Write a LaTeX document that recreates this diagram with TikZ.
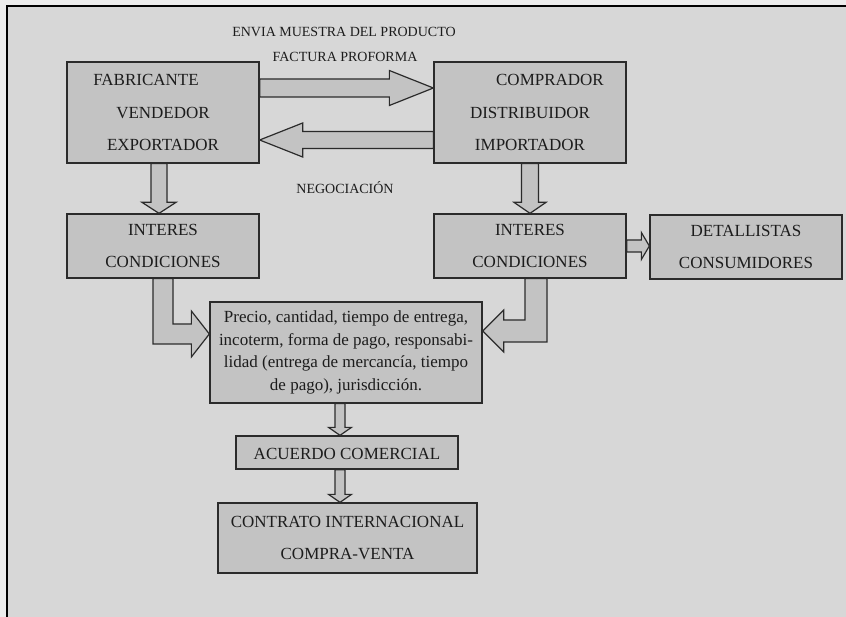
\documentclass[tikz,border=0pt]{standalone}
\usepackage{fontspec}
\setmainfont{Liberation Serif}
\usetikzlibrary{calc}

\definecolor{pagebg}{HTML}{D7D7D7}
\definecolor{outerbg}{HTML}{ECECEC}
\definecolor{boxfill}{HTML}{C3C3C3}
\definecolor{edge}{HTML}{2B2B2B}
\definecolor{ink}{HTML}{1C1C1C}

\tikzset{
  card/.style={draw=edge, fill=boxfill, line width=1.3pt, inner sep=0pt,
    align=center, text=ink, font=\fontsize{17}{32.5}\selectfont},
  notecard/.style={card, font=\fontsize{17}{22.5}\selectfont},
  % taller first line: sets the lines a little lower in the box
  lowered/.style={execute at begin node={\rule{0pt}{#1}}},
  blockarr/.style={draw=edge, fill=boxfill, line width=1.2pt, line join=miter},
  caption/.style={text=ink, font=\fontsize{14}{16}\selectfont}
}

% straight block arrow: #1 start, #2 tip, #3 shaft half width,
% #4 head half width, #5 head length
\newcommand\blockarrow[5]{%
  \coordinate (ba-c) at ($(#2)!#5!(#1)$);
  \draw[blockarr] ($(#1)!#3!90:(#2)$) -- ($(ba-c)!#3!90:(#2)$)
    -- ($(ba-c)!#4!90:(#2)$) -- (#2) -- ($(ba-c)!#4!-90:(#2)$)
    -- ($(ba-c)!#3!-90:(#2)$) -- ($(#1)!#3!-90:(#2)$) -- cycle;}

\begin{document}
\begin{tikzpicture}[x=1pt,y=-1pt]
  \useasboundingbox (0,0) rectangle (846,617);
  % page and frame
  \fill[outerbg] (0,0) rectangle (846,617);
  \fill[pagebg] (7,6) rectangle (846,617);
  \draw[black, line width=2pt] (7,617) -- (7,6) -- (846,6);

  % boxes
  \node[card, lowered=14pt, minimum width=192pt, minimum height=101pt] (fab) at (163,112.5)
    {FABRICANTE\kern34pt\\VENDEDOR\\EXPORTADOR};
  \node[card, lowered=14pt, minimum width=192pt, minimum height=101pt] (comp) at (530,112.5)
    {\kern40pt COMPRADOR\\DISTRIBUIDOR\\IMPORTADOR};
  \node[card, lowered=19pt, minimum width=192pt, minimum height=64pt] (int1) at (163,246)
    {INTERES\\CONDICIONES};
  \node[card, lowered=19pt, minimum width=192pt, minimum height=64pt] (int2) at (530,246)
    {INTERES\\CONDICIONES};
  \node[card, lowered=18pt, minimum width=192pt, minimum height=64pt] (det) at (746,247)
    {DETALLISTAS\\CONSUMIDORES};
  \node[notecard, lowered=20pt, minimum width=272pt, minimum height=101pt] (ctr) at (346,352.5)
    {Precio, cantidad, tiempo de entrega,\\incoterm, forma de pago, responsabi-\\lidad (entrega de mercancía, tiempo\\de pago), jurisdicción.};
  \node[card, lowered=14pt, minimum width=222pt, minimum height=33pt] (acu) at (347,452.5)
    {ACUERDO COMERCIAL};
  \node[card, minimum width=259pt, minimum height=70pt] (con) at (347.5,538)
    {CONTRATO INTERNACIONAL\\COMPRA-VENTA};

  % labels
  \node[caption] (lab1) at (344,32) {ENVIA MUESTRA DEL PRODUCTO};
  \node[caption] (lab2) at (345,56.5) {FACTURA PROFORMA};
  \node[caption] (lab3) at (345,188) {NEGOCIACIÓN};

  % straight block arrows
  \coordinate (u1) at ($(fab.east)+(0,-24.5)$);
  \coordinate (u2) at (comp.west |- u1);
  \blockarrow{u1}{u2}{9pt}{17.5pt}{44pt}

  \coordinate (l1) at ($(comp.west)+(0,27.5)$);
  \coordinate (l2) at (fab.east |- l1);
  \blockarrow{l1}{l2}{8.5pt}{17pt}{43pt}

  \coordinate (d1) at ($(fab.south)+(-4,0)$);
  \coordinate (d2) at (d1 |- int1.north);
  \blockarrow{d1}{d2}{8pt}{17pt}{11pt}

  \coordinate (e1) at (comp.south);
  \coordinate (e2) at (e1 |- int2.north);
  \blockarrow{e1}{e2}{8.5pt}{16pt}{11pt}

  \coordinate (s1) at (int2.east);
  \coordinate (s2) at (det.west |- s1);
  \blockarrow{s1}{s2}{6pt}{13.5pt}{8pt}

  \coordinate (f1) at ($(ctr.south)+(-6,0)$);
  \coordinate (f2) at (f1 |- acu.north);
  \blockarrow{f1}{f2}{5pt}{11.5pt}{8pt}

  \coordinate (g1) at (f1 |- acu.south);
  \coordinate (g2) at (g1 |- con.north);
  \blockarrow{g1}{g2}{5pt}{11.5pt}{8pt}

  % elbow block arrows into the terms box
  \coordinate (ls) at (int1.south);
  \coordinate (lt) at ($(ctr.west)+(0,-18.5)$);
  \draw[blockarr] ($(ls)+(-10,0)$) |- ($(lt)+(-18,10)$) -- ++(0,13) -- (lt)
    -- ($(lt)+(-18,-23)$) -- ++(0,13) -| ($(ls)+(10,0)$) -- cycle;

  \coordinate (rs) at ($(int2.south)+(6,0)$);
  \coordinate (rt) at ($(ctr.east)+(0,-21.5)$);
  \draw[blockarr] ($(rs)+(11,0)$) |- ($(rt)+(21,11)$) -- ++(0,10) -- (rt)
    -- ($(rt)+(21,-21)$) -- ++(0,10) -| ($(rs)+(-11,0)$) -- cycle;
\end{tikzpicture}
\end{document}
